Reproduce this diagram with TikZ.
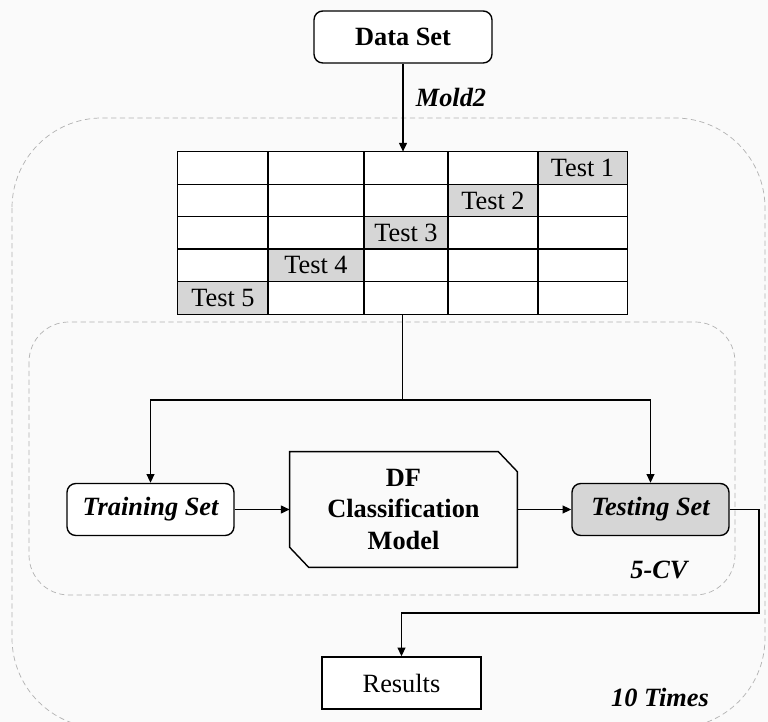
\documentclass[tikz,border=0pt]{standalone}
\usepackage{fontspec}
\setmainfont{Liberation Serif}
\usetikzlibrary{arrows.meta}
\definecolor{cellgray}{RGB}{214,214,214}
\definecolor{dashgray}{RGB}{178,178,178}
\newcommand{\labsize}{\fontsize{15}{18}\selectfont}
\begin{document}
\begin{tikzpicture}[x=0.02cm,y=-0.02cm,>={Triangle[length=5pt,width=4.5pt]},
  every node/.style={font=\labsize},
  rbox/.style={draw,thick,rounded corners=5pt,minimum height=1.04cm,inner sep=0pt},
  loopbox/.style={draw=dashgray,dash pattern=on 3pt off 2pt}]
\useasboundingbox[fill=white!98!black] (0,0) rectangle (768,722);
% loops
\draw[loopbox,rounded corners=1.8cm] (12,118) rectangle (765,728);
\draw[loopbox,rounded corners=0.8cm] (29,322) rectangle (735,595);
\node[rbox,fill=white,minimum width=3.56cm,font=\labsize\bfseries] (data) at (403,37) {Data Set};
% folds table
\node[fill=white,minimum width=8.98cm,minimum height=3.24cm,inner sep=0pt] (table) at (402.5,233) {};
\foreach \k/\xl/\xr in {1/538/627,2/448/538,3/364/448,4/268/364,5/178/268} {
  \fill[cellgray] (\xl,{152+(\k-1)*32.4}) rectangle (\xr,{152+\k*32.4});
  \node (test\k) at ({(\xl+\xr)/2},{152+(\k-0.5)*32.4}) {Test \k};
}
\foreach \x in {268,364,448,538} \draw[thick] (\x,152) -- (\x,314);
\foreach \k in {1,...,4} \draw[thick] (178,{152+\k*32.4}) -- (627,{152+\k*32.4});
\draw[thick] (table.north west) rectangle (table.south east);
\draw[->,thick] (data.south) -- (data.south |- table.north);
\node[font=\labsize\bfseries\itshape] (mold) at (451,97) {Mold2};
% cross validation
\node[rbox,fill=white,minimum width=3.34cm,font=\labsize\bfseries\itshape] (train) at (150.5,509.5) {Training Set};
\node[minimum width=4.54cm,minimum height=2.3cm,align=center,font=\labsize\bfseries] (model) at (403.5,509.5) {DF\\Classification\\Model};
\draw[thick] (model.north west) -- ([xshift=-0.38cm]model.north east) -- ([yshift=-0.4cm]model.north east) -- (model.south east) -- ([xshift=0.38cm]model.south west) -- ([yshift=0.4cm]model.south west) -- cycle;
\node[rbox,fill=cellgray,minimum width=3.14cm,font=\labsize\bfseries\itshape] (testset) at (650.5,509.5) {Testing Set};
\coordinate (split) at (402.5,400);
\draw[thick] (table.south) -- (split);
\draw[->,thick] (split) -| (train.north);
\draw[->,thick] (split) -| (testset.north);
\draw[->,thick] (train) -- (model);
\draw[->,thick] (model) -- (testset);
\node[font=\labsize\bfseries\itshape] (cv) at (659,570) {5-CV};
% results
\node[draw,thick,fill=white,minimum width=3.18cm,minimum height=1.04cm] (results) at (401.5,683) {Results};
\coordinate (turn) at (759,613);
\draw[->,thick] (testset.east) -| (turn) -| (results.north);
\node[font=\labsize\bfseries\itshape] (times) at (660,697) {10 Times};
\end{tikzpicture}
\end{document}
